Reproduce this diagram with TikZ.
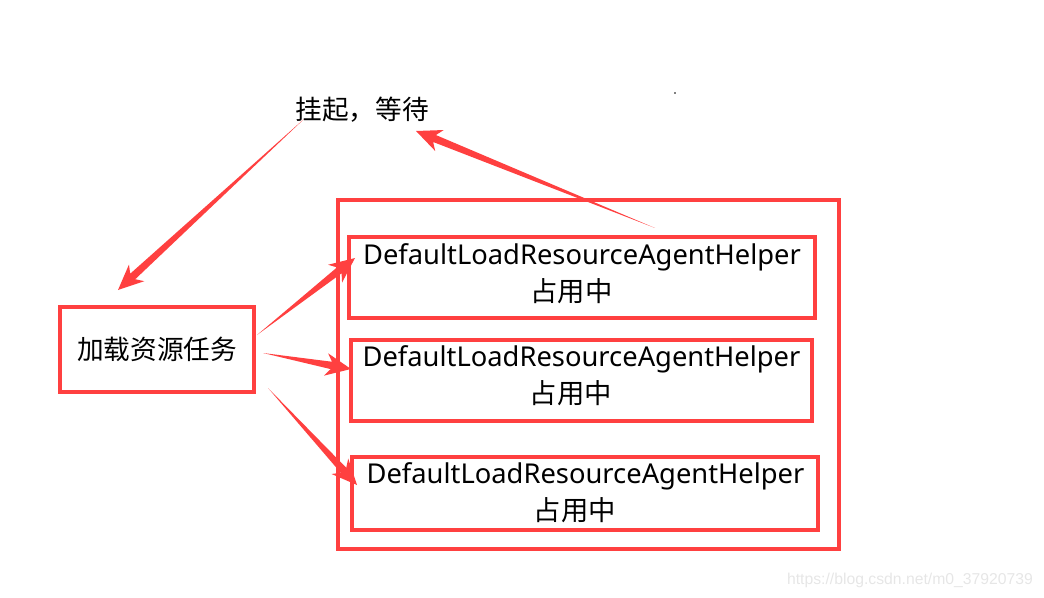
\documentclass[tikz,border=0pt]{standalone}
\usepackage{fontspec}
\setmainfont{Noto Sans}
\newfontfamily\cjk{Noto Sans CJK SC}
\newfontfamily\wmfont{Liberation Sans}
\usetikzlibrary{calc}
\definecolor{redline}{RGB}{255,64,64}
\definecolor{wmgray}{RGB}{230,230,230}
\newcommand\taper[2]{%
  \fill[redline] (#1) -- ($(#2)!15pt!(#1)!2.8pt!90:(#2)$) -- ($(#2)!19pt!(#1)!8.5pt!90:(#2)$) -- (#2)
   -- ($(#2)!19pt!(#1)!8.5pt!-90:(#2)$) -- ($(#2)!15pt!(#1)!2.8pt!-90:(#2)$) -- cycle;}
\newcommand\busy{{\cjk 占用中}\hspace*{16pt}}
\tikzset{
  redbox/.style={draw=redline, line width=2.3pt, inner sep=0pt, align=center},
  cjktext/.style={font=\cjk\fontsize{20}{28}\selectfont},
  helpertext/.style={font=\fontsize{20.5}{27.5}\selectfont, inner sep=0pt, align=center},
}
\begin{document}
\begin{tikzpicture}[x=0.75pt,y=-0.75pt]
\useasboundingbox (0,0) rectangle (1044,598);
% outer container
\node[redbox, minimum width=375.75pt, minimum height=261.75pt] (outer) at (588.5,374.5) {};
% task box
\node[redbox, cjktext, minimum width=145.5pt, minimum height=63.75pt] (task) at (157,349.5) {\raisebox{2pt}{加载资源任务}};
% helper boxes
\node[redbox, minimum width=349.5pt, minimum height=60.75pt] (h1) at (582,277.5) {};
\node[redbox, minimum width=345.75pt, minimum height=60.75pt] (h2) at (581.5,380.5) {};
\node[redbox, minimum width=349.5pt, minimum height=54.75pt] (h3) at (585,493.5) {};
\node[helpertext] (h1t) at (582,273.5) {DefaultLoadResourceAgentHelper\\\busy};
\node[helpertext] (h2t) at (581.5,375.5) {DefaultLoadResourceAgentHelper\\\busy};
\node[helpertext] (h3t) at (585.5,493) {DefaultLoadResourceAgentHelper\\\busy};
% waiting label
\node[cjktext, inner sep=0pt] (wait) at (362,110) {挂起，等待};
% watermark
\node[font=\wmfont\fontsize{11.8}{14}\selectfont, text=wmgray, inner sep=0pt] (wm) at (910,580) {https://blog.csdn.net/m0\_37920739};
% tiny dot
\fill[black] (675,93) circle (0.6pt);
% connector end points
\coordinate (a1s) at (304,119);
\coordinate (a1e) at (118,290);
\coordinate (a2s) at (655,228);
\coordinate (a2e) at (416,131);
\coordinate (a3s) at (257,335);
\coordinate (a3e) at (355,258);
\coordinate (a4s) at (263,353);
\coordinate (a4e) at (351,369);
\coordinate (a5s) at (268,388);
\coordinate (a5e) at (357,485);
\taper{a1s}{a1e}
\taper{a2s}{a2e}
\taper{a3s}{a3e}
\taper{a4s}{a4e}
\taper{a5s}{a5e}
\end{tikzpicture}
\end{document}
